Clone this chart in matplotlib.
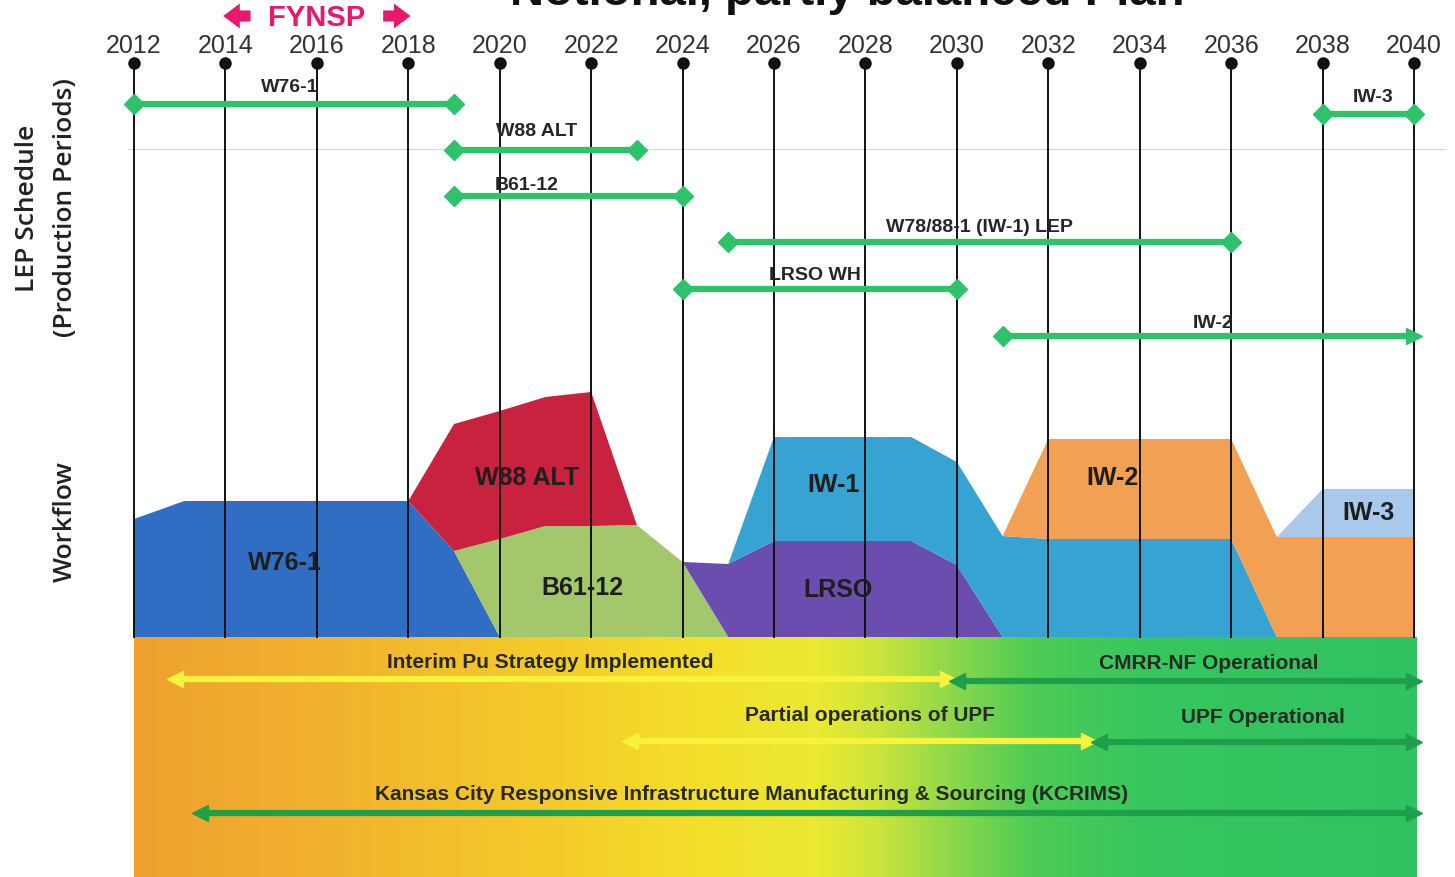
import numpy as np
import matplotlib
matplotlib.use("Agg")
import matplotlib.pyplot as plt
from matplotlib.colors import LinearSegmentedColormap

plt.rcParams['font.family'] = ['Liberation Sans', 'DejaVu Sans']

# ---------------- data ----------------
tick_years = list(range(2012, 2041, 2))

lep_programs = ["W76-1", "W88 ALT", "B61-12", "W78/88-1 (IW-1) LEP", "LRSO WH", "IW-2", "IW-3"]
lep_start = [2012, 2019, 2019, 2025, 2024, 2031, 2038]
lep_end = [2019, 2023, 2024, 2036, 2030, 2040, 2040]

wf_years = [2012, 2013.1, 2018, 2019, 2020, 2021, 2022, 2023, 2024, 2025,
            2026, 2029, 2030, 2031, 2032, 2036, 2037, 2038, 2040]
wf_w76 = [118, 136, 136, 86, 0, 0, 0, 0, 0, 0, 0, 0, 0, 0, 0, 0, 0, 0, 0]
wf_b61 = [0, 0, 0, 0, 98, 111, 111, 112, 75, 0, 0, 0, 0, 0, 0, 0, 0, 0, 0]
wf_w88 = [0, 0, 0, 127, 128, 129, 134, 0, 0, 0, 0, 0, 0, 0, 0, 0, 0, 0, 0]
wf_lrso = [0, 0, 0, 0, 0, 0, 0, 0, 0, 73, 96, 96, 72, 0, 0, 0, 0, 0, 0]
wf_iw1 = [0, 0, 0, 0, 0, 0, 0, 0, 0, 0, 104, 104, 103, 101, 98, 98, 0, 0, 0]
wf_iw2 = [0, 0, 0, 0, 0, 0, 0, 0, 0, 0, 0, 0, 0, 0, 100, 100, 100, 100, 100]
wf_iw3 = [0, 0, 0, 0, 0, 0, 0, 0, 0, 0, 0, 0, 0, 0, 0, 0, 0, 48, 48]
wf_names = ["W76-1", "B61-12", "W88 ALT", "LRSO", "IW-1", "IW-2", "IW-3"]

infra_names = ["Interim Pu Strategy Implemented", "CMRR-NF Operational",
               "Partial operations of UPF", "UPF Operational",
               "Kansas City Responsive Infrastructure Manufacturing & Sourcing (KCRIMS)"]
infra_start = [2012.9, 2030.0, 2022.85, 2033.1, 2013.45]
infra_end = [2029.8, 2040.0, 2032.9, 2040.0, 2040.0]

# ---------------- styling / layout ----------------
wf_colors = ["#2f6ec2", "#a3c76b", "#c8223f", "#6a4dae", "#37a3d3", "#f2a154", "#a9c9ec"]
lep_green = "#2ec26a"
pink = "#e8196c"

lep_rows = [533, 487, 441, 395, 348, 301, 523]          # y of each LEP bar
lep_label_x = [2015.4, 2020.8, 2020.6, 2030.5, 2026.9, 2035.6, 2039.1]
lep_label_dy = [17, 20, 12, 16, 15, 13, 18]
wf_label_pos = [(2015.3, 75), (2021.8, 50), (2020.6, 160), (2027.4, 48),
                (2027.3, 153), (2033.4, 160), (2039.0, 125)]
infra_rows = [-42, -44, -104, -105, -176]
infra_colors = ["#f8f23c", "#1f9e4b", "#f8f23c", "#1f9e4b", "#1f9e4b"]
infra_label_pos = [(2021.1, -25), (2035.5, -26), (2028.1, -78), (2036.7, -80), (2025.5, -157)]

px_per_year = (1414 - 134) / 28.0
x_left = 2012 - 134 / px_per_year
x_right = 2040 + (1455 - 1414) / px_per_year

fig = plt.figure(figsize=(14.55, 8.78), dpi=100)
ax = fig.add_axes([0, 0, 1, 1])
ax.set_xlim(x_left, x_right)
ax.set_ylim(-240, 638)
ax.axis("off")

# bottom gradient band
grad = LinearSegmentedColormap.from_list("band", [
    (0.0, "#efa030"), (0.17, "#f2b52e"), (0.33, "#f5cc2a"), (0.44, "#f4df2a"),
    (0.535, "#eae932"), (0.58, "#cbe43c"), (0.636, "#8fd84a"), (0.70, "#4ecc56"),
    (0.79, "#37c65e"), (1.0, "#30c262")])
ax.imshow(np.linspace(0, 1, 512)[None, :], cmap=grad, aspect="auto",
          extent=(2012, 2040.05, -240, 0), zorder=1, interpolation="bicubic")

# workflow stacked areas
ax.stackplot(wf_years, wf_w76, wf_b61, wf_w88, wf_lrso, wf_iw1, wf_iw2, wf_iw3,
             colors=wf_colors, linewidth=0, zorder=2)
for name, (lx, ly) in zip(wf_names, wf_label_pos):
    ax.text(lx, ly, name, ha="center", va="center", fontsize=18, fontweight="bold",
            color="#1e1e1e", zorder=5)

# separator line
ax.plot([2011.87, 2040.68], [488, 488], color="#d4d4d4", lw=0.8, zorder=1)

# vertical year lines, dots and labels
for yr in tick_years:
    ax.plot([yr, yr], [0, 574], color="#111111", lw=1.4, zorder=4)
    ax.plot([yr], [574], marker="o", ms=8, color="#111111", zorder=4)
    ax.text(yr, 592, str(yr), ha="center", va="center", fontsize=18, color="#333333")

# LEP schedule bars
for i, name in enumerate(lep_programs):
    y = lep_rows[i]
    ax.plot([lep_start[i], lep_end[i]], [y, y], color=lep_green, lw=4.5,
            solid_capstyle="butt", zorder=6)
    ax.plot([lep_start[i]], [y], marker="D", ms=10, color=lep_green, zorder=6)
    end_marker = ">" if name == "IW-2" else "D"
    ax.plot([lep_end[i]], [y], marker=end_marker, ms=11 if end_marker == ">" else 10,
            color=lep_green, zorder=6)
    ax.text(lep_label_x[i], y + lep_label_dy[i], name, ha="center", va="center",
            fontsize=14, fontweight="bold", color="#262626", zorder=7)

# infrastructure arrows
for i, name in enumerate(infra_names):
    y = infra_rows[i]
    c = infra_colors[i]
    ax.plot([infra_start[i], infra_end[i]], [y, y], color=c, lw=4.5,
            solid_capstyle="butt", zorder=6)
    ax.plot([infra_start[i]], [y], marker="<", ms=12, color=c, zorder=6)
    ax.plot([infra_end[i]], [y], marker=">", ms=12, color=c, zorder=6)
    lx, ly = infra_label_pos[i]
    ax.text(lx, ly, name, ha="center", va="center", fontsize=15, fontweight="bold",
            color="#262a22", zorder=7)

# FYNSP marker
ax.text(2016.0, 620, "FYNSP", ha="center", va="center", fontsize=21,
        fontweight="bold", color=pink)
arrow_style = "simple,head_length=0.6,head_width=0.9,tail_width=0.4"
ax.annotate("", xy=(2013.95, 621), xytext=(2014.55, 621),
            arrowprops=dict(arrowstyle=arrow_style, color=pink, lw=0, mutation_scale=20,
                            shrinkA=0, shrinkB=0))
ax.annotate("", xy=(2018.05, 621), xytext=(2017.45, 621),
            arrowprops=dict(arrowstyle=arrow_style, color=pink, lw=0, mutation_scale=20,
                            shrinkA=0, shrinkB=0))

# title (partly cut off at the top, as in the source)
ax.text(2027.6, 633, "Notional, partly balanced Plan", ha="center", va="baseline",
        fontsize=34, fontweight="bold", color="#111111", clip_on=False)

# side labels
side_font = dict(rotation=90, ha="center", va="center", fontsize=19, color="#222222",
                 family=["Open Sans", "DejaVu Sans"], fontweight="semibold")
ax.text(28 / px_per_year + x_left, 430, "LEP Schedule", **side_font)
ax.text(65 / px_per_year + x_left, 430, "(Production Periods)", **side_font)
ax.text(65 / px_per_year + x_left, 116, "Workflow", **side_font)

fig.savefig("out.png", dpi=100)
